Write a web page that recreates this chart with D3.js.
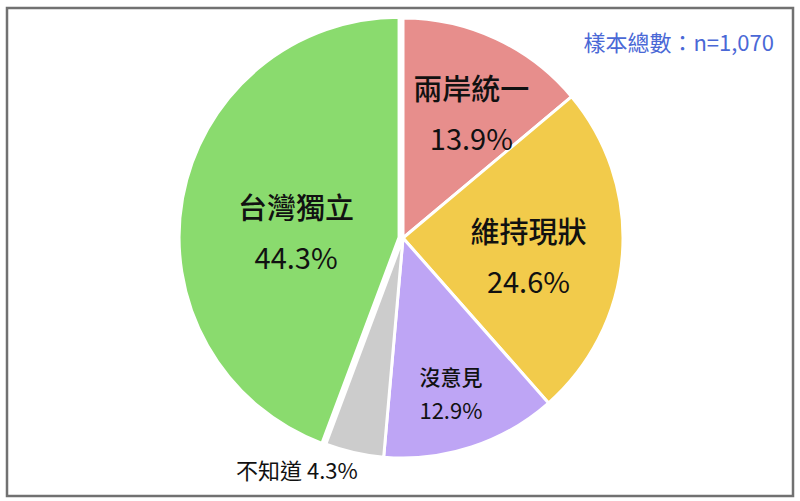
<!DOCTYPE html>
<html>
<head>
<meta charset="utf-8">
<script src="https://cdn.jsdelivr.net/npm/d3@7"></script>
<style>
  body { margin: 0; background: #fff; }
  svg { display: block; }
</style>
</head>
<body>
<div id="chart"></div>
<script>
// chart data, clockwise from 12 o'clock
const categories = ["兩岸統一", "維持現狀", "沒意見", "不知道", "台灣獨立"];
const shares = [13.9, 24.6, 12.9, 4.3, 44.3];
const sampleNote = "樣本總數：n=1,070";

const W = 800, H = 501;
const cx = 403, cy = 238, radius = 220;

const colors = d3.scaleOrdinal()
    .domain(categories)
    .range(["#e78e8c", "#f2cb4b", "#bea5f5", "#cccccc", "#8adb6e"]);

// label placement: polar position (deg clockwise from top, px from centre)
const labelLayout = {
    "兩岸統一": { ang: 29, dist: 141, size: 29, pctSize: 29, gap: 50 },
    "維持現狀": { ang: 99, dist: 127, size: 29, pctSize: 29, gap: 50 },
    "沒意見":   { ang: 163, dist: 164, size: 21, pctSize: 22, gap: 33 },
    "台灣獨立": { ang: 272, dist: 107, size: 29, pctSize: 29, gap: 50 }
};

const svg = d3.select("#chart")
    .append("svg")
    .attr("width", W)
    .attr("height", H);

// outer frame
svg.append("rect")
    .attr("x", 7)
    .attr("y", 8)
    .attr("width", 786)
    .attr("height", 488)
    .attr("fill", "#fff")
    .attr("stroke", "#717171")
    .attr("stroke-width", 2.5);

const pie = d3.pie().sort(null).value(d => d.value);
const arcs = pie(categories.map((c, i) => ({ name: c, value: shares[i] })));

const arc = d3.arc().innerRadius(0).outerRadius(radius);

const g = svg.append("g")
    .attr("transform", `translate(${cx}, ${cy})`);

// slices, the big one pulled out a little
g.selectAll("path")
    .data(arcs)
    .enter()
    .append("path")
    .attr("d", arc)
    .attr("fill", d => colors(d.data.name))
    .attr("stroke", "#fff")
    .attr("stroke-width", 3)
    .attr("stroke-linejoin", "round")
    .attr("transform", d => {
        if (d.data.name !== "台灣獨立") return null;
        const mid = (d.startAngle + d.endAngle) / 2;
        return `translate(${Math.sin(mid) * 4}, ${-Math.cos(mid) * 4})`;
    });

const font = "'Noto Sans CJK TC', 'Noto Sans', sans-serif";

// in-slice labels: name over percentage
arcs.filter(d => labelLayout[d.data.name]).forEach(d => {
    const L = labelLayout[d.data.name];
    const a = L.ang * Math.PI / 180;
    const x = Math.sin(a) * L.dist;
    const y = -Math.cos(a) * L.dist;
    g.append("text")
        .attr("x", x)
        .attr("y", y - L.gap / 2 + L.size * 0.34)
        .attr("text-anchor", "middle")
        .style("font-family", font)
        .style("font-size", L.size + "px")
        .style("font-weight", 500)
        .style("fill", "#111")
        .text(d.data.name);
    g.append("text")
        .attr("x", x)
        .attr("y", y + L.gap / 2 + L.pctSize * 0.34)
        .attr("text-anchor", "middle")
        .style("font-family", font)
        .style("font-size", L.pctSize + "px")
        .style("fill", "#111")
        .text(d.data.value.toFixed(1) + "%");
});

// small slice gets an outside label
const small = arcs.find(d => d.data.name === "不知道");
g.append("text")
    .attr("x", -167)
    .attr("y", 241)
    .style("font-family", font)
    .style("font-size", "22px")
    .style("fill", "#111")
    .text(`${small.data.name} ${small.data.value.toFixed(1)}%`);

// sample size note
svg.append("text")
    .attr("x", 774)
    .attr("y", 51)
    .attr("text-anchor", "end")
    .style("font-family", font)
    .style("font-size", "22px")
    .style("fill", "#4a68d6")
    .text(sampleNote);
</script>
</body>
</html>
